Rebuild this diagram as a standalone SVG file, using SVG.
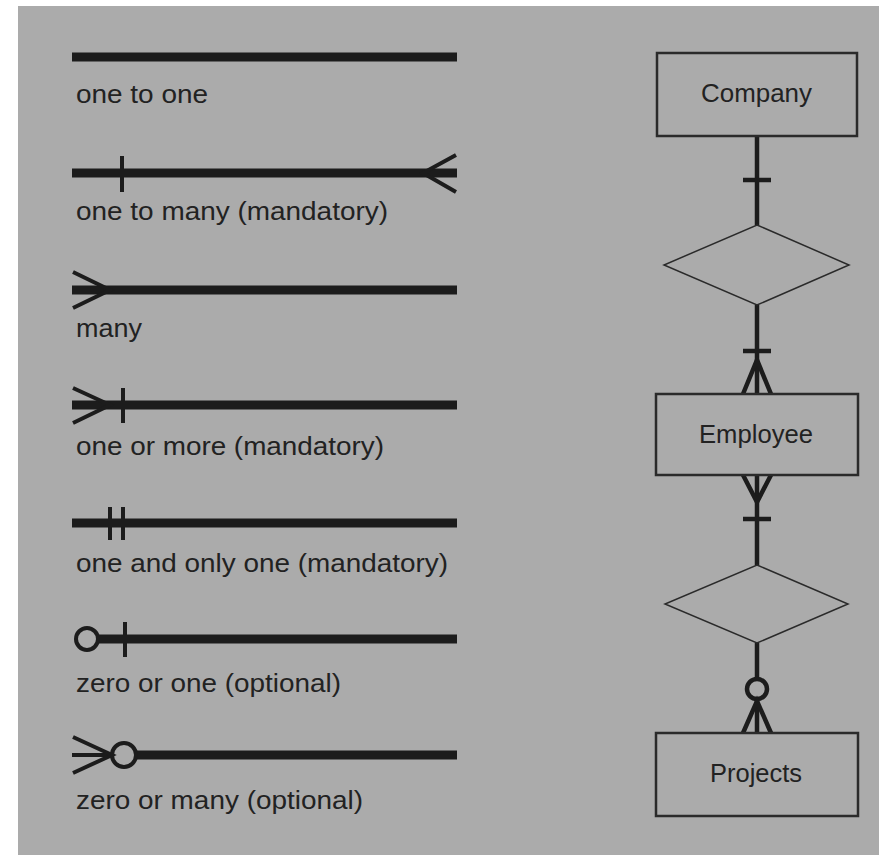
<svg xmlns="http://www.w3.org/2000/svg" width="879" height="855" viewBox="0 0 879 855">
<style>
.bar{stroke:#1c1c1c;stroke-width:9;fill:none}
.thin{stroke:#1c1c1c;stroke-width:4;fill:none}
.conn{stroke:#1c1c1c;stroke-width:4.5;fill:none}
.ent{fill:#ababab;stroke:#2a2a2a;stroke-width:2.5}
.rel{fill:#ababab;stroke:#2a2a2a;stroke-width:1.5}
.lbl{font-family:"Liberation Sans",Arial,sans-serif;font-size:25px;fill:#222}
.ename{font-family:"Liberation Sans",Arial,sans-serif;font-size:25px;fill:#222}
</style>
<rect x="0" y="0" width="879" height="855" fill="#ffffff"/>
<rect x="18" y="6" width="861" height="849" fill="#ababab"/>

<g id="legend-one-to-one">
<line class="bar" x1="72" y1="57" x2="457" y2="57"/>
<text class="lbl" x="76" y="103" textLength="132" lengthAdjust="spacingAndGlyphs">one to one</text>
</g>
<g id="legend-one-to-many">
<line class="bar" x1="72" y1="173" x2="457" y2="173"/>
<line class="thin" x1="122" y1="156" x2="122" y2="192"/>
<polyline class="thin" points="456,155 423,173 456,192"/>
<text class="lbl" x="76" y="220" textLength="312" lengthAdjust="spacingAndGlyphs">one to many (mandatory)</text>
</g>
<g id="legend-many">
<line class="bar" x1="72" y1="290" x2="457" y2="290"/>
<polyline class="thin" points="73,272 110,290 73,308"/>
<text class="lbl" x="76" y="337" textLength="66" lengthAdjust="spacingAndGlyphs">many</text>
</g>
<g id="legend-one-or-more">
<line class="bar" x1="72" y1="405" x2="457" y2="405"/>
<polyline class="thin" points="73,388 110,405 73,423"/>
<line class="thin" x1="123" y1="388" x2="123" y2="423"/>
<text class="lbl" x="76" y="455" textLength="308" lengthAdjust="spacingAndGlyphs">one or more (mandatory)</text>
</g>
<g id="legend-one-and-only-one">
<line class="bar" x1="72" y1="523" x2="457" y2="523"/>
<line class="thin" x1="110" y1="507" x2="110" y2="540"/>
<line class="thin" x1="123" y1="507" x2="123" y2="540"/>
<text class="lbl" x="76" y="572" textLength="372" lengthAdjust="spacingAndGlyphs">one and only one (mandatory)</text>
</g>
<g id="legend-zero-or-one">
<line class="bar" x1="98" y1="639" x2="457" y2="639"/>
<circle class="thin" cx="87" cy="639" r="11"/>
<line class="thin" x1="125" y1="622" x2="125" y2="657"/>
<text class="lbl" x="76" y="692" textLength="265" lengthAdjust="spacingAndGlyphs">zero or one (optional)</text>
</g>
<g id="legend-zero-or-many">
<line class="bar" x1="135" y1="755" x2="457" y2="755"/>
<line class="thin" x1="72" y1="755" x2="112" y2="755"/>
<polyline class="thin" points="73,737 112,755 73,773"/>
<circle class="thin" cx="124" cy="755" r="12"/>
<text class="lbl" x="76" y="809" textLength="287" lengthAdjust="spacingAndGlyphs">zero or many (optional)</text>
</g>

<g id="connectors">
<line class="conn" x1="757" y1="136" x2="757" y2="225"/>
<line class="conn" x1="743" y1="180" x2="771" y2="180"/>
<line class="conn" x1="757" y1="305" x2="757" y2="394"/>
<line class="conn" x1="743" y1="351" x2="771" y2="351"/>
<polyline class="conn" points="743,394 757,360 771,394"/>
<line class="conn" x1="757" y1="475" x2="757" y2="565"/>
<polyline class="conn" points="743,475 757,502 771,475"/>
<line class="conn" x1="743" y1="519" x2="771" y2="519"/>
<line class="conn" x1="757" y1="643" x2="757" y2="679"/>
<circle class="conn" cx="757" cy="689" r="10"/>
<line class="conn" x1="757" y1="699" x2="757" y2="733"/>
<polyline class="conn" points="743,733 757,701 771,733"/>
</g>

<g id="company">
<rect class="ent" x="657" y="53" width="200" height="83"/>
<text class="ename" x="701" y="102" textLength="111" lengthAdjust="spacingAndGlyphs">Company</text>
</g>
<g id="relationship-1">
<polygon class="rel" points="757,225 849,265 757,305 664,265"/>
</g>
<g id="employee">
<rect class="ent" x="656" y="394" width="202" height="81"/>
<text class="ename" x="699" y="443" textLength="114" lengthAdjust="spacingAndGlyphs">Employee</text>
</g>
<g id="relationship-2">
<polygon class="rel" points="757,565 848,604 757,643 665,604"/>
</g>
<g id="projects">
<rect class="ent" x="656" y="733" width="202" height="83"/>
<text class="ename" x="710" y="782" textLength="92" lengthAdjust="spacingAndGlyphs">Projects</text>
</g>
</svg>
